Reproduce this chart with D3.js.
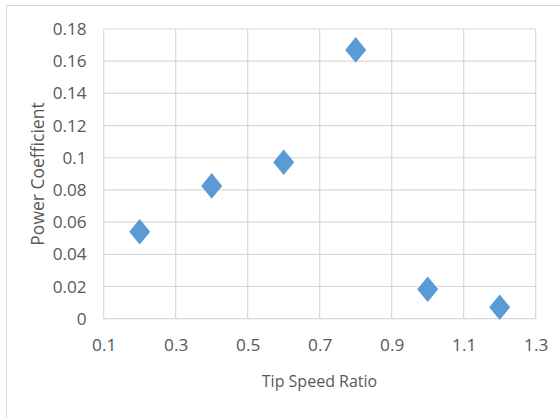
<!DOCTYPE html>
<html><head><meta charset="utf-8">
<script src="https://cdn.jsdelivr.net/npm/d3@7"></script>
<style>body{margin:0;background:#fff}svg{display:block}</style>
</head><body><svg id="c" width="560" height="418"></svg>
<script>
const tsr = [0.2, 0.4, 0.6, 0.8, 1.0, 1.2];
const cp = [0.054, 0.0825, 0.0972, 0.167, 0.0183, 0.0071];
const xTicks = [0.1, 0.3, 0.5, 0.7, 0.9, 1.1, 1.3];
const yTicks = [0, 0.02, 0.04, 0.06, 0.08, 0.1, 0.12, 0.14, 0.16, 0.18];
const xTitle = "Tip Speed Ratio";
const yTitle = "Power Coefficient";

const svg = d3.select("#c");
const font = "'Open Sans', sans-serif";
svg.append("rect").attr("x", 6.5).attr("y", 5.5).attr("width", 600).attr("height", 500)
  .attr("fill", "#fff").attr("stroke", "#d9d9d9").attr("stroke-width", 1);

const x = d3.scaleLinear().domain([0.1, 1.3]).range([103.7, 535.7]);
const y = d3.scaleLinear().domain([0, 0.18]).range([318.7, 29]);

const g = svg.append("g");
g.selectAll("line.v").data(xTicks).join("line")
  .attr("x1", d => x(d)).attr("x2", d => x(d)).attr("y1", y(0)).attr("y2", y(0.18))
  .attr("stroke", "#d9d9d9").attr("stroke-width", 1.2);
g.selectAll("line.h").data(yTicks).join("line")
  .attr("y1", d => y(d)).attr("y2", d => y(d)).attr("x1", x(0.1)).attr("x2", x(1.3))
  .attr("stroke", "#d9d9d9").attr("stroke-width", 1.2);

const xAxis = svg.append("g").attr("transform", `translate(0,${y(0)})`)
  .call(d3.axisBottom(x).tickValues(xTicks).tickSize(0).tickPadding(20).tickFormat(d3.format("")));
xAxis.select(".domain").remove();
xAxis.selectAll("text").attr("font-family", font).attr("font-size", 17.2).attr("fill", "#595959");

const yAxis = svg.append("g").attr("transform", `translate(${x(0.1)},0)`)
  .call(d3.axisLeft(y).tickValues(yTicks).tickSize(0).tickPadding(17).tickFormat(d3.format("")));
yAxis.select(".domain").remove();
yAxis.selectAll("text").attr("font-family", font).attr("font-size", 17.2).attr("fill", "#595959");

svg.append("text").attr("x", 319.5).attr("y", 387).attr("text-anchor", "middle")
  .attr("font-family", font).attr("font-size", 16).attr("fill", "#595959").text(xTitle);
svg.append("text").attr("transform", "translate(44,174) rotate(-90)").attr("text-anchor", "middle")
  .attr("font-family", font).attr("font-size", 17.5).attr("fill", "#595959").text(yTitle);

const hw = 10.5, hh = 12.8;
svg.append("g").selectAll("path").data(tsr.map((t, i) => [t, cp[i]])).join("path")
  .attr("d", d => {
    const cx = x(d[0]), cy = y(d[1]);
    return `M${cx},${cy - hh}L${cx + hw},${cy}L${cx},${cy + hh}L${cx - hw},${cy}Z`;
  })
  .attr("fill", "#5b9bd5");
</script></body></html>
